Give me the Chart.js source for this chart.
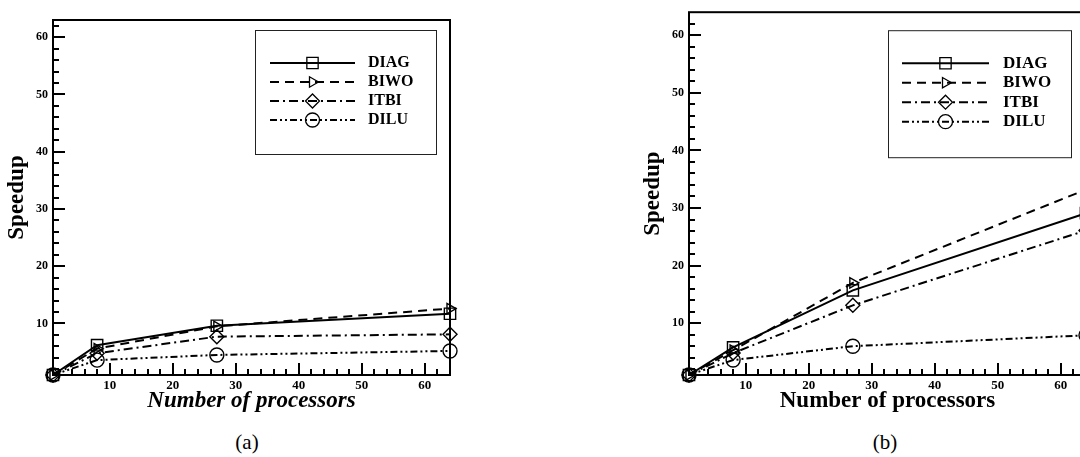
<!DOCTYPE html>
<html>
<head>
<meta charset="utf-8">
<script src="https://cdn.jsdelivr.net/npm/chart.js@4.4.1/dist/chart.umd.min.js"></script>
<style>
  html, body { margin: 0; padding: 0; background: #fff; overflow: hidden; }
  body { width: 1080px; height: 457px; position: relative; }
  canvas { position: absolute; top: 0; }
  #chartA { left: 0; }
  #chartB { left: 636px; }
  .cap { position: absolute; top: 432px; font: 21px 'Liberation Serif', serif; line-height: 1; color: #000; transform: translateX(-50%); }
</style>
</head>
<body>
<canvas id="chartA" width="460" height="420"></canvas>
<canvas id="chartB" width="460" height="420"></canvas>
<div class="cap" style="left:247px">(a)</div>
<div class="cap" style="left:885px">(b)</div>
<script>
// processors (x) and speedup values
const procs = [1, 8, 27, 64];
const names = ['DIAG', 'BIWO', 'ITBI', 'DILU'];

// (a)
const diagA = [1, 6.2, 9.6, 11.7];
const biwoA = [1, 5.6, 9.5, 12.6];
const itbiA = [1, 4.8, 7.7, 8.1];
const diluA = [1, 3.6, 4.5, 5.2];

// (b)
const diagB = [1, 5.8, 15.7, 29.1];
const biwoB = [1, 5.3, 17.0, 33.2];
const itbiB = [1, 4.8, 13.1, 26.1];
const diluB = [1, 3.6, 6.0, 7.9];

const xTicks = [10, 20, 30, 40, 50, 60];
const yTicks = [10, 20, 30, 40, 50, 60];
const minorStep = 2;

const lineStyles = {
    DIAG: { dash: [], point: 'rect', rot: 0, r: 8 },
    BIWO: { dash: [9, 6], point: 'triangle', rot: 90, r: 6 },
    ITBI: { dash: [9, 4, 2, 4], point: 'rectRot', rot: 0, r: 7 },
    DILU: { dash: [7, 3, 2, 3, 2, 3], point: 'circle', rot: 0, r: 7 }
};

const serif = "'Liberation Serif', 'Times New Roman', serif";

// frame box plus inward major/minor ticks, tecplot style
const frameTicks = {
    id: 'frameTicks',
    afterDraw(chart) {
        const ctx = chart.ctx;
        const a = chart.chartArea;
        const xs = chart.scales.x, ys = chart.scales.y;
        ctx.save();
        ctx.setLineDash([]);
        ctx.strokeStyle = '#000';
        ctx.lineWidth = 2;
        for (let v = minorStep; v < xs.max; v += minorStep) {
            const px = Math.round(xs.getPixelForValue(v));
            const len = v % 10 === 0 ? 12 : 6;
            ctx.beginPath();
            ctx.moveTo(px, a.bottom);
            ctx.lineTo(px, a.bottom - len);
            ctx.stroke();
        }
        for (let v = minorStep; v < ys.max; v += minorStep) {
            const py = Math.round(ys.getPixelForValue(v));
            const len = v % 10 === 0 ? 12 : 6;
            ctx.beginPath();
            ctx.moveTo(a.left, py);
            ctx.lineTo(a.left + len, py);
            ctx.stroke();
        }
        ctx.strokeRect(a.left, a.top, a.right - a.left, a.bottom - a.top);
        ctx.restore();
    }
};

// boxed legend with line sample and marker
const boxLegend = {
    id: 'boxLegend',
    afterDraw(chart, args, o) {
        const { ctx, chartArea: a } = chart;
        const left = a.left + o.dx, top = a.top + o.dy;
        ctx.save();
        ctx.strokeStyle = '#222';
        ctx.lineWidth = 1;
        ctx.strokeRect(left + 0.5, top + 0.5, o.w, o.h);
        ctx.font = 'bold ' + o.fontSize + 'px ' + serif;
        ctx.textBaseline = 'middle';
        chart.data.datasets.forEach((ds, i) => {
            const yy = top + o.row0 + i * o.rowGap;
            ctx.strokeStyle = '#000';
            ctx.setLineDash(ds.borderDash);
            ctx.lineWidth = ds.borderWidth;
            ctx.beginPath();
            ctx.moveTo(left + o.line0, yy);
            ctx.lineTo(left + o.line1, yy);
            ctx.stroke();
            ctx.setLineDash([]);
            ctx.lineWidth = 1.3;
            ctx.fillStyle = 'rgba(0,0,0,0)';
            Chart.helpers.drawPoint(ctx, {
                pointStyle: ds.pointStyle, rotation: ds.pointRotation,
                radius: ds.pointRadius, borderWidth: 1.3
            }, left + (o.line0 + o.line1) / 2, yy);
            ctx.fillStyle = '#000';
            ctx.fillText(ds.label, left + o.text0, yy);
        });
        ctx.restore();
    }
};

function makeChart(id, series, yMax, padTop, italicTitle, legendOpts) {
    return new Chart(document.getElementById(id), {
        type: 'line',
        data: {
            datasets: series.map((vals, i) => {
                const st = lineStyles[names[i]];
                return {
                    label: names[i],
                    data: procs.map((p, j) => ({ x: p, y: vals[j] })),
                    borderColor: '#000',
                    borderWidth: 2,
                    borderDash: st.dash,
                    pointStyle: st.point,
                    pointRotation: st.rot,
                    pointRadius: st.r,
                    pointBorderWidth: 1.4,
                    pointBorderColor: '#000',
                    pointBackgroundColor: 'rgba(0,0,0,0)',
                    tension: 0,
                    clip: false
                };
            })
        },
        options: {
            responsive: false,
            animation: false,
            layout: { padding: { top: padTop, right: 10, left: 0, bottom: 0 } },
            plugins: {
                legend: { display: false },
                tooltip: { enabled: false },
                boxLegend: legendOpts
            },
            scales: {
                x: {
                    type: 'linear', min: 1, max: 64,
                    afterBuildTicks: s => { s.ticks = xTicks.map(v => ({ value: v })); },
                    afterFit: s => { s.height = 45; },
                    grid: { display: false, drawTicks: false },
                    border: { display: false },
                    ticks: { color: '#000', padding: 3, maxRotation: 0, font: { family: serif, size: 13, weight: 'bold' } },
                    title: {
                        display: true, text: 'Number of processors', color: '#000',
                        font: { family: serif, size: 23, weight: 'bold', style: italicTitle ? 'italic' : 'normal' },
                        padding: { top: 0, bottom: 5 }
                    }
                },
                y: {
                    type: 'linear', min: 1, max: yMax,
                    afterBuildTicks: s => { s.ticks = yTicks.map(v => ({ value: v })); },
                    afterFit: s => { s.width = 53; },
                    grid: { display: false, drawTicks: false },
                    border: { display: false },
                    ticks: { color: '#000', padding: 5, font: { family: serif, size: 12, weight: 'bold' } },
                    title: {
                        display: true, text: 'Speedup', color: '#000',
                        font: { family: serif, size: 23, weight: 'bold' },
                        padding: { top: 3, bottom: 0 }
                    }
                }
            }
        },
        plugins: [frameTicks, boxLegend]
    });
}

makeChart('chartA', [diagA, biwoA, itbiA, diluA], 63, 20, true,
    { dx: 202, dy: 10, w: 181, h: 124, row0: 33, rowGap: 19, line0: 15, line1: 100, text0: 113, fontSize: 16 });
makeChart('chartB', [diagB, biwoB, itbiB, diluB], 64, 11, false,
    { dx: 199, dy: 18, w: 183, h: 127, row0: 33, rowGap: 19.5, line0: 14, line1: 101, text0: 115, fontSize: 17 });
</script>
</body>
</html>
